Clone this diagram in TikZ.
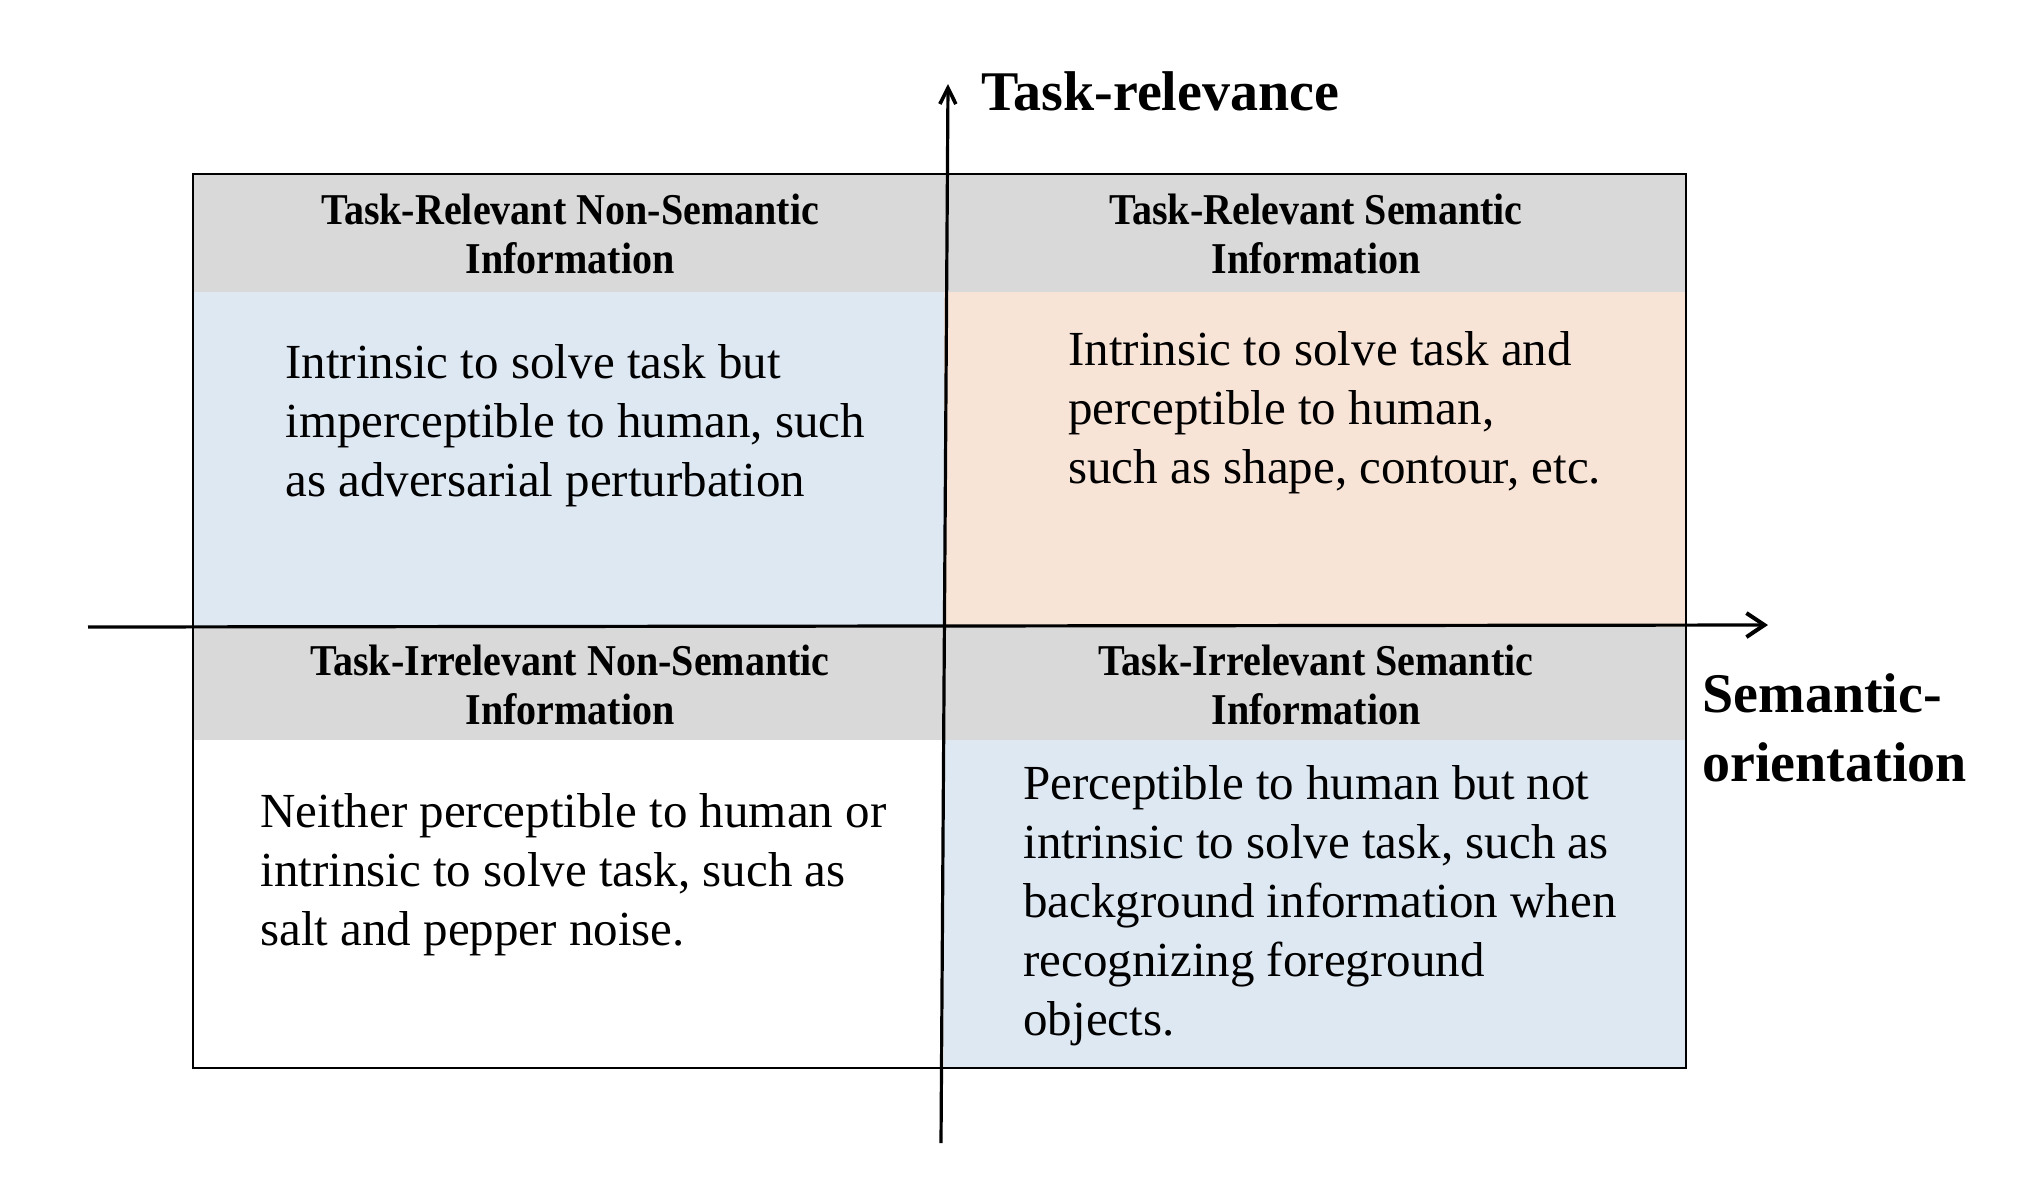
\documentclass[tikz,border=0pt]{standalone}
\usepackage{fontspec}
\setmainfont{Liberation Serif}
\newfontfamily\headfont[FakeStretch=0.91]{Liberation Serif}
\usetikzlibrary{arrows.meta}
\definecolor{cellblue}{HTML}{DEE8F3}
\definecolor{cellpeach}{HTML}{F8E4D6}
\definecolor{headgray}{HTML}{D9D9D9}

\begin{document}
\begin{tikzpicture}[x=0.5pt,y=-0.5pt,
  head/.style={font=\headfont\bfseries\fontsize{22pt}{24.5pt}\selectfont, align=center, inner sep=0pt},
  % multi-line nodes: the base anchor sits on the last line
  body/.style={font=\fontsize{24.5pt}{29.5pt}\selectfont, align=left, anchor=base west, inner sep=0pt},
  axislabel/.style={font=\bfseries\fontsize{28pt}{34.5pt}\selectfont, align=left, anchor=base west, inner sep=0pt},
  axisline/.style={line width=1.6pt}]
\useasboundingbox (0,0) rectangle (2018,1180);
\fill[white] (0,0) rectangle (2018,1180);

% quadrant fills
\fill[cellblue]  (193,292) rectangle (944,627);
\fill[cellpeach] (944,292) rectangle (1686,627);
\fill[cellblue]  (944,740) rectangle (1686,1068);
% header strips
\fill[headgray] (193,174) rectangle (1686,292);
\fill[headgray] (193,627) rectangle (1686,740);
% outer frame
\draw[line width=0.9pt] (193,174) rectangle (1686,1068);

% headers
\node[head] (hTL) at (570,234) {Task-Relevant Non-Semantic\\Information};
\node[head] (hTR) at (1316,234) {Task-Relevant Semantic\\Information};
\node[head] (hBL) at (570,685) {Task-Irrelevant Non-Semantic\\Information};
\node[head] (hBR) at (1316,685) {Task-Irrelevant Semantic\\Information};

% descriptions
\node[body] (dTL) at (285,496) {Intrinsic to solve task but\\imperceptible to human, such\\as adversarial perturbation};
\node[body] (dTR) at (1068,483) {Intrinsic to solve task and\\perceptible to human,\\such as shape, contour, etc.};
\node[body] (dBL) at (260,945) {Neither perceptible to human or\\intrinsic to solve task, such as\\salt and pepper noise.};
\node[body] (dBR) at (1023,1035) {Perceptible to human but not\\intrinsic to solve task, such as\\background information when\\recognizing foreground\\objects.};

% axes
\coordinate (yS) at (941,1143);
\coordinate (yE) at (948,84);
\coordinate (xS) at (88,627);
\coordinate (xE) at (1768,625);
\draw[axisline, -{Straight Barb[length=8pt,width=8pt,line width=1.8pt]}] (yS) -- (yE);
\draw[axisline, -{Straight Barb[length=9pt,width=12pt,line width=2pt]}] (xS) -- (xE);

% axis labels
\node[axislabel] (ly) at (981,110) {Task-relevance};
\node[axislabel] (lx) at (1702,781) {Semantic-\\orientation};
\end{tikzpicture}
\end{document}
